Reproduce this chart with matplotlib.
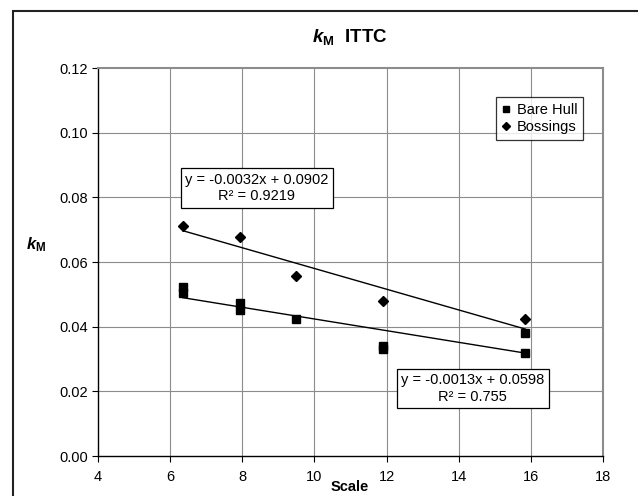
import matplotlib
matplotlib.use("Agg")
import matplotlib.pyplot as plt
import numpy as np
from matplotlib.patches import Rectangle

plt.rcParams['font.family'] = ['Liberation Sans', 'DejaVu Sans']
plt.rcParams['mathtext.fontset'] = 'custom'
plt.rcParams['mathtext.rm'] = 'Liberation Sans'
plt.rcParams['mathtext.it'] = 'Liberation Sans:italic'
plt.rcParams['mathtext.bf'] = 'Liberation Sans:bold'
plt.rcParams['mathtext.bfit'] = 'Liberation Sans:italic:bold'

# datos
bare_scale = [6.35, 6.35, 7.95, 7.95, 9.5, 11.9, 11.9, 15.85, 15.85]
bare_km = [0.0523, 0.0503, 0.0473, 0.0453, 0.0424, 0.0340, 0.0332, 0.0381, 0.0320]
boss_scale = [6.35, 7.95, 9.5, 11.9, 15.85]
boss_km = [0.0712, 0.0678, 0.0558, 0.0479, 0.0423]

# etiquetas de las líneas de tendencia (tal como aparecen)
bare_label = "y = -0.0013x + 0.0598\nR² = 0.755"
boss_label = "y = -0.0032x + 0.0902\nR² = 0.9219"

x_ticks = [4, 6, 8, 10, 12, 14, 16, 18]
y_ticks = [0.00, 0.02, 0.04, 0.06, 0.08, 0.10, 0.12]

W, H = 638, 496
fig = plt.figure(figsize=(W / 100, H / 100), dpi=100)
ax = fig.add_axes([98 / W, 40 / H, 505 / W, 388 / H])

# marco exterior
fig.patches.append(Rectangle((13 / W, -0.1), 1.2, (H - 11) / H + 0.1,
                             transform=fig.transFigure, fill=False,
                             edgecolor='#222222', lw=1.5))

for v in x_ticks[1:-1]:
    ax.axvline(v, color='#8c8c8c', lw=0.8, zorder=0)
for v in y_ticks[1:-1]:
    ax.axhline(v, color='#8c8c8c', lw=0.8, zorder=0)

# tendencia lineal por mínimos cuadrados
for xs, ys in ((bare_scale, bare_km), (boss_scale, boss_km)):
    p = np.polyfit(xs, ys, 1)
    xx = np.array([min(xs), max(xs)])
    ax.plot(xx, np.polyval(p, xx), color='black', lw=1.0, zorder=2)

ax.plot(bare_scale, bare_km, 's', color='black', ms=5.4, label='Bare Hull', zorder=3)
ax.plot(boss_scale, boss_km, 'D', color='black', ms=5.0, label='Bossings', zorder=3)

ax.set_xlim(4, 18)
ax.set_ylim(0, 0.12)
ax.set_xticks(x_ticks)
ax.set_yticks(y_ticks)
ax.set_yticklabels([f"{v:.2f}" for v in y_ticks])
ax.tick_params(direction='out', length=4, width=0.8, labelsize=10.5)
ax.tick_params(axis='x', pad=6)
ax.tick_params(axis='y', pad=3)

for s in ('left', 'bottom'):
    ax.spines[s].set_color('black')
    ax.spines[s].set_linewidth(1.0)
for s in ('top', 'right'):
    ax.spines[s].set_color('#8c8c8c')
    ax.spines[s].set_linewidth(1.5)

leg = ax.legend(loc='upper right', bbox_to_anchor=((583 - 98) / 505, 1 - (97 - 68) / 388),
                fontsize=10.5, frameon=True, fancybox=False, handlelength=0.6,
                handletextpad=0.4, borderpad=0.4, labelspacing=0.25, borderaxespad=0,
                markerscale=0.8)
leg.get_frame().set_edgecolor('black')
leg.get_frame().set_linewidth(0.9)

box = dict(boxstyle='square,pad=0.3', facecolor='white', edgecolor='black', lw=0.9)
ax.text((257 - 98) / 505, 1 - (188 - 68) / 388, boss_label, transform=ax.transAxes,
        ha='center', va='center', multialignment='center', fontsize=10.5,
        bbox=box, zorder=4, linespacing=1.25)
ax.text((472.5 - 98) / 505, 1 - (388.5 - 68) / 388, bare_label, transform=ax.transAxes,
        ha='center', va='center', multialignment='center', fontsize=10.5,
        bbox=box, zorder=4, linespacing=1.25)

fig.text(350 / W, 1 - 37 / H, r"$\mathbfit{k}_{\mathbf{M}}$  ITTC", ha='center', va='center',
         fontsize=13.5, fontweight='bold')
fig.text(36 / W, 1 - 245 / H, r"$\mathbfit{k}_{\mathbf{M}}$", ha='center', va='center',
         fontsize=12, fontweight='bold')
fig.text(350 / W, 1 - 487 / H, "Scale", ha='center', va='center',
         fontsize=10.5, fontweight='bold')

fig.savefig("out.png", dpi=100)
